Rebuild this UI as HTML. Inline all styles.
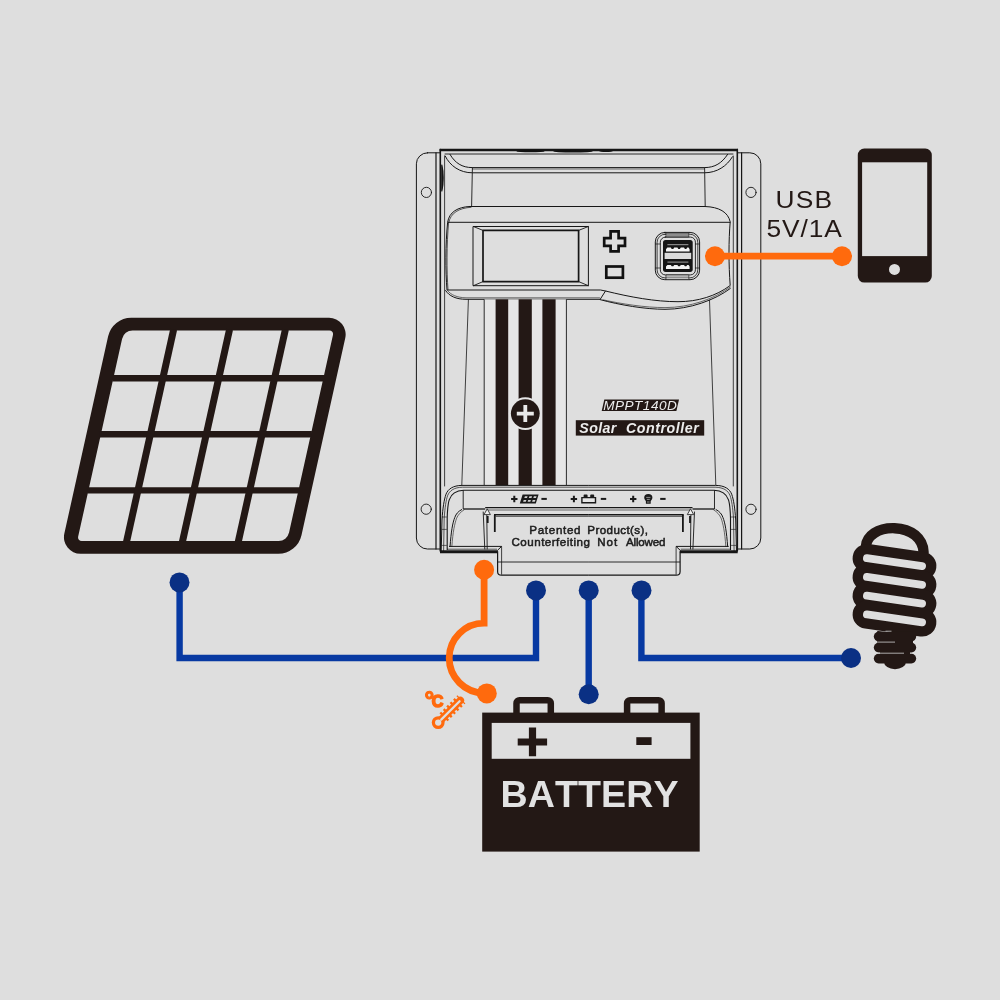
<!DOCTYPE html>
<html lang="en"><head><meta charset="utf-8"><title>Solar Controller Wiring</title>
<style>
html,body{margin:0;padding:0;background:#dedede;}
body{width:1000px;height:1000px;overflow:hidden;font-family:"Liberation Sans",sans-serif;}
svg{display:block;}
svg{will-change:transform;}
</style></head><body>
<svg width="1000" height="1000" viewBox="0 0 1000 1000">
<rect width="1000" height="1000" fill="#dedede"/>
<g id="panel">
<path d="M108.13,336.36 A23.70,23.70 0 0 1 131.26,317.80 L329.06,317.80 A16.60,16.60 0 0 1 345.26,338.00 L301.48,535.24 A23.70,23.70 0 0 1 278.34,553.80 L80.55,553.80 A16.60,16.60 0 0 1 64.34,533.60 Z M122.07,338.88 A10.70,10.70 0 0 1 132.51,330.50 L329.44,330.50 A3.60,3.60 0 0 1 332.96,334.88 L289.06,532.62 A10.70,10.70 0 0 1 278.61,541.00 L81.68,541.00 A3.60,3.60 0 0 1 78.17,536.62 Z" fill="#231815" fill-rule="evenodd"/>
<line x1="112.34" y1="378.2" x2="324.34" y2="378.2" stroke="#231815" stroke-width="6.4"/>
<line x1="99.91" y1="434.2" x2="311.91" y2="434.2" stroke="#231815" stroke-width="6.4"/>
<line x1="87.43" y1="490.4" x2="299.43" y2="490.4" stroke="#231815" stroke-width="6.4"/>
<line x1="173.65" y1="329.5" x2="126.48" y2="542.0" stroke="#231815" stroke-width="7"/>
<line x1="229.55" y1="329.5" x2="182.38" y2="542.0" stroke="#231815" stroke-width="7"/>
<line x1="285.40" y1="329.5" x2="238.23" y2="542.0" stroke="#231815" stroke-width="7"/>
</g>
<g id="controller" fill="none" stroke="#161616" stroke-width="1" stroke-linecap="round" stroke-linejoin="round">
<rect x="416.4" y="152.8" width="344.4" height="396.2" rx="11" ry="11"/>
<circle cx="426.4" cy="192.4" r="5.1" stroke-width="0.9"/>
<circle cx="751" cy="192.4" r="5.1" stroke-width="0.9"/>
<circle cx="426.2" cy="509.2" r="5.1" stroke-width="0.9"/>
<circle cx="751" cy="509.3" r="5.1" stroke-width="0.9"/>
<rect x="440.3" y="149" width="297" height="402.5" fill="#dedede" stroke="none"/>
<path d="M436,152.8V549 M741.6,152.8V549" stroke-width="1.2"/>
<path d="M440.3,149.5V551 M737.3,149.5V551" stroke-width="1.6"/>
<path d="M444.6,156V486 M733.3,156V486" stroke-width="0.8"/>
<path d="M439.6,150H738" stroke-width="2.4" stroke-linecap="butt"/>
<path d="M445,154H733" stroke-width="0.9"/>
<ellipse cx="530.5" cy="151.2" rx="14" ry="1.1" fill="#111" stroke="none"/><ellipse cx="573" cy="151.3" rx="20" ry="1.3" fill="#111" stroke="none"/><ellipse cx="606" cy="151.1" rx="7" ry="0.9" fill="#111" stroke="none"/>
<path d="M441.8,165C443.6,172 443.6,184 441.8,191Z" fill="#111" stroke-width="1.2"/>
<path d="M450,154.4C455,163 462,167.6 472.4,167.6H704.4C715,167.6 722,163 727.6,154.4"/>
<path d="M445.2,156C450,166 460,172.8 472.4,172.8H704.4C717,172.8 727,166 732.4,156.8"/>
<path d="M472.4,169H704.4" stroke-width="0.6"/>
<path d="M472.4,167.6L471.6,206.6 M704.6,167.6L705.2,206.6" stroke-width="0.9"/>
<path d="M469.5,206.5H705C719,207 728,212 730.2,221.8C728.6,240 728.6,265 730.2,285.5 C716,296 698,301.7 678,301.7C655,301.7 630,297 605.5,291 L600.5,290H447 C445.4,270 445.4,245 447.6,222.5C449,212 458,207 469.5,206.5Z" fill="#dedede"/>
<path d="M471,207.3C459,208 450.5,213 448.8,222.4" stroke-width="0.7"/>
<path d="M448,222.3H730"/>
<path d="M448.6,222.5C446.6,245 446.6,270 448,289.6" stroke-width="0.7"/>
<path d="M445.6,290.5C449,296 456,299.3 466,299.3H600"/>
<path d="M447.5,290.5C451,295 457,297.6 466,297.8H599.5" stroke-width="0.6"/>
<path d="M605.5,291L600,299.6C620,305 645,309.3 665,309.3C690,309.3 715,300 730.3,288.5"/>
<path d="M603,299.8C622,304 645,307.6 665,307.6C690,307.6 714,299 730.3,287" stroke-width="0.6"/>
<rect x="473.4" y="226.5" width="115" height="59.2"/>
<rect x="483" y="230.4" width="95.6" height="51.2" stroke-width="1.7"/>
<path d="M473.4,226.5L483,230.4 M588.4,226.5L578.6,230.4 M473.4,285.7L483,281.6 M588.4,285.7L578.6,281.6" stroke-width="0.9"/>
<path d="M610.6,231.4H618.6V238.2H625V245.8H618.6V251.4H610.6V245.8H604.2V238.2H610.6Z" stroke-width="2.7" stroke-linejoin="miter" stroke="#111"/>
<rect x="606.3" y="266.5" width="16.6" height="11.2" stroke-width="2.7" stroke-linejoin="miter" stroke="#111"/>
<rect x="655.3" y="232.4" width="44.3" height="47.3" rx="9.5" ry="9.5"/>
<rect x="657.1" y="234.2" width="40.7" height="43.7" rx="8" ry="8" stroke-width="0.8"/>
<rect x="660.3" y="237.1" width="35.1" height="37.8" rx="5" ry="5" stroke-width="0.9"/>
<rect x="666.3" y="232.8" width="22.5" height="4.2" fill="#8c8c8c" stroke-width="0.6"/>
<rect x="666.3" y="275" width="22.5" height="4.4" fill="#cfcfcf" stroke-width="0.6"/>
<path d="M666.3,277.2H688.8" stroke-width="0.5"/>
<path d="M655.5,244H660.3 M655.5,268H660.3 M695.4,244H699.4 M695.4,268H699.4" stroke-width="0.7"/>
<rect x="663" y="240.1" width="29.7" height="31.8" rx="2.6" ry="2.6" fill="#151515" stroke="none"/>
<rect x="664.6" y="252.8" width="26.6" height="6.2" fill="#dadada" stroke="none"/>
<path d="M667.4,244.7H688.4" stroke="#c4c4c4" stroke-width="0.8" stroke-linecap="butt"/>
<path d="M666,251.6V249.2L667.4,247.6h3.4l.9,1.3h1.6l.9,-1.3h3.2l.9,1.3h1.6l.9,-1.3h3.2l.9,1.3h1.4l.9,-1.3h1.4L689.6,249.2V251.6Z" fill="#f4f4f4" stroke="none"/>
<path d="M667.4,262.1H688.4" stroke="#c4c4c4" stroke-width="0.8" stroke-linecap="butt"/>
<path d="M666,269.0V266.6L667.4,265.0h3.4l.9,1.3h1.6l.9,-1.3h3.2l.9,1.3h1.6l.9,-1.3h3.2l.9,1.3h1.4l.9,-1.3h1.4L689.6,266.6V269.0Z" fill="#f4f4f4" stroke="none"/>
<path d="M468.4,299.6L461.8,485 M709.5,300L715.8,485" stroke-width="0.8"/>
</g>
<g id="stripes">
<rect x="484" y="299.3" width="82.5" height="186" fill="#e6e6e6"/>
<rect x="495.6" y="299.3" width="12.6" height="186" fill="#231815"/>
<rect x="518.6" y="299.3" width="13.2" height="186" fill="#231815"/>
<rect x="542.4" y="299.3" width="13.2" height="186" fill="#231815"/>
<path d="M484.2,299.3V485 M566.4,299.3V485" stroke="#161616" stroke-width="0.9" fill="none"/>
<circle cx="525.3" cy="413.6" r="16.4" fill="#e6e6e6"/>
<circle cx="525.3" cy="413.6" r="14.4" fill="#231815"/>
<path d="M516.8,413.6H533.8 M525.3,405.1V422.1" stroke="#e9e9e9" stroke-width="3.8" fill="none"/>
</g>
<path d="M604.3,399.6H679L676.4,411H601.7Z" fill="#231815"/>
<text y="410" font-family="Liberation Sans, sans-serif" font-style="italic" font-size="13.6" fill="#ececec" style="font-kerning:none" ><tspan x="603.18" letter-spacing="0.481">MPPT140D</tspan></text>
<rect x="575.8" y="420.2" width="128.4" height="15.4" fill="#231815"/>
<text y="432.8" font-family="Liberation Sans, sans-serif" font-weight="bold" font-style="italic" font-size="14.2" fill="#ececec" style="font-kerning:none" ><tspan x="579.33" letter-spacing="0.354">Solar</tspan> <tspan x="626.01" letter-spacing="0.556">Controller</tspan></text>
<g id="bottom" fill="none" stroke="#161616" stroke-width="1" stroke-linecap="butt" stroke-linejoin="round">
<path d="M441.2,551L442,520C442.8,508 444,500 446,494.2C448,489 453,485.5 462,485.4H715.7C724.7,485.5 729.7,489 731.7,494.2C733.7,500 734.9,508 735.7,520L736.5,551Z" fill="#dedede" stroke="none"/>
<g>
<path d="M441.2,551L442,520C442.8,508 444,500 446,494.2C448,489 453,485.5 462,485.4H588.85"/>
<path d="M443.6,551L444.2,518C445,507 446,500.4 447.6,495.6C449.6,490.6 454,487.4 462.5,487.2H588.85" stroke-width="0.7"/>
<path d="M447.2,550V518C447.5,508 448,503.5 449.2,499.8C451,494.5 456,490.4 463.6,490.2H588.85" stroke-width="1.1"/>
<path d="M463.2,490.2V509" stroke-width="0.9"/>
<path d="M463.2,509H485.2" stroke-width="1.3"/>
<path d="M462,509.4C458,511.5 456,514 454.8,517.4C452.6,523 451.2,531 450,547"/>
<path d="M464.4,509.6C460.4,512 458,515 456.6,518.2C454.6,524 453,531 451.8,547" stroke-width="0.6"/>
<path d="M442,517H446.8 M441.8,529.4H446.8 M441.6,545.4H446.8" stroke-width="0.6"/>
<path d="M449,546.4H501.6L497.4,550.4" stroke-width="1"/>
<path d="M447,549.2H497" stroke-width="0.7"/>
<path d="M440,551.8H497.8" stroke-width="3" stroke-linecap="butt"/>
<path d="M485.2,507.6H588.85" stroke-width="1.2"/>
<path d="M486.4,510H588.85" stroke-width="0.6"/>
<path d="M494,514.8H588.85" stroke-width="1.5"/>
<path d="M495.6,516.5H588.85" stroke-width="0.6"/>
<path d="M483.2,511.6L484.8,549.4 M486.8,515L487.2,549.4" stroke-width="0.9"/>
<path d="M484,514.6L487.2,508.8L490.4,514.6Z" fill="#f0f0f0" stroke-width="0.8"/>
<path d="M487.7,516V523" stroke-width="1.8" stroke-linecap="butt"/>
<path d="M494.8,514.8V532" stroke-width="1.8"/>
<path d="M497.6,551.2V571.4C497.6,573.8 499,575.2 501.6,575.2H588.85" stroke-width="1.2"/>
<path d="M501.6,546.4V574.6" stroke-width="0.8"/>
<path d="M497.6,562H588.85" stroke-width="0.9"/>
</g>
<g transform="translate(1177.7,0) scale(-1,1)">
<path d="M441.2,551L442,520C442.8,508 444,500 446,494.2C448,489 453,485.5 462,485.4H588.85"/>
<path d="M443.6,551L444.2,518C445,507 446,500.4 447.6,495.6C449.6,490.6 454,487.4 462.5,487.2H588.85" stroke-width="0.7"/>
<path d="M447.2,550V518C447.5,508 448,503.5 449.2,499.8C451,494.5 456,490.4 463.6,490.2H588.85" stroke-width="1.1"/>
<path d="M463.2,490.2V509" stroke-width="0.9"/>
<path d="M463.2,509H485.2" stroke-width="1.3"/>
<path d="M462,509.4C458,511.5 456,514 454.8,517.4C452.6,523 451.2,531 450,547"/>
<path d="M464.4,509.6C460.4,512 458,515 456.6,518.2C454.6,524 453,531 451.8,547" stroke-width="0.6"/>
<path d="M442,517H446.8 M441.8,529.4H446.8 M441.6,545.4H446.8" stroke-width="0.6"/>
<path d="M449,546.4H501.6L497.4,550.4" stroke-width="1"/>
<path d="M447,549.2H497" stroke-width="0.7"/>
<path d="M440,551.8H497.8" stroke-width="3" stroke-linecap="butt"/>
<path d="M485.2,507.6H588.85" stroke-width="1.2"/>
<path d="M486.4,510H588.85" stroke-width="0.6"/>
<path d="M494,514.8H588.85" stroke-width="1.5"/>
<path d="M495.6,516.5H588.85" stroke-width="0.6"/>
<path d="M483.2,511.6L484.8,549.4 M486.8,515L487.2,549.4" stroke-width="0.9"/>
<path d="M484,514.6L487.2,508.8L490.4,514.6Z" fill="#f0f0f0" stroke-width="0.8"/>
<path d="M487.7,516V523" stroke-width="1.8" stroke-linecap="butt"/>
<path d="M494.8,514.8V532" stroke-width="1.8"/>
<path d="M497.6,551.2V571.4C497.6,573.8 499,575.2 501.6,575.2H588.85" stroke-width="1.2"/>
<path d="M501.6,546.4V574.6" stroke-width="0.8"/>
<path d="M497.6,562H588.85" stroke-width="0.9"/>
</g>
</g>
<text y="533.6" font-family="Liberation Sans, sans-serif" font-size="11.6" fill="#1c1c1c" style="font-kerning:none" stroke="#1c1c1c" stroke-width="0.5"><tspan x="529.25" letter-spacing="0.694">Patented</tspan> <tspan x="587.35" letter-spacing="0.397">Product(s),</tspan></text>
<text y="546.4" font-family="Liberation Sans, sans-serif" font-size="11.6" fill="#1c1c1c" style="font-kerning:none" stroke="#1c1c1c" stroke-width="0.5"><tspan x="511.51" letter-spacing="0.478">Counterfeiting</tspan> <tspan x="597.25" letter-spacing="0.993">Not</tspan> <tspan x="625.98" letter-spacing="-0.175">Allowed</tspan></text>
<g id="ticons" stroke="#1a1a1a" fill="none" stroke-width="2" stroke-linecap="butt">
<path d="M511.09999999999997,499h6.4 M514.3,495.8v6.4"/>
<path d="M570.6999999999999,499h6.4 M573.9,495.8v6.4"/>
<path d="M630.0,499h6.4 M633.2,495.8v6.4"/>
<path d="M541.4,498.9h5.4"/>
<path d="M600.8,498.9h5.4"/>
<path d="M660.1999999999999,498.9h5.4"/>
<path d="M522.6,494.5H538.6L535.8,503.5H519.8Z" fill="#1a1a1a" stroke="none"/>
<path d="M524.9,496.3h2.7l-.6,1.8h-2.7z m4.5,0h2.7l-.6,1.8h-2.7z m4.5,0h2.7l-.6,1.8h-2.7z M523.7,500h2.7l-.6,1.8h-2.7z m4.5,0h2.7l-.6,1.8h-2.7z m4.5,0h2.7l-.6,1.8h-2.7z" fill="#d2d2d2" stroke="none"/>
<path d="M581.9,497.6H595.5V502.8H581.9Z" stroke-width="1.4" fill="#e6e6e6"/>
<path d="M583.6,497.4V495.4a.9,.9 0 0 1 .9,-.9h2.2a.9,.9 0 0 1 .9,.9V497.4Z M590.2,497.4V495.4a.9,.9 0 0 1 .9,-.9h2.2a.9,.9 0 0 1 .9,.9V497.4Z" fill="#1a1a1a" stroke="none"/>
<path d="M644.2,497.8a4.1,3.7 0 1 1 8.2,0c0,1.6-1.3,2.4-1.7,3.4v2.6h-4.8v-2.6c-.4-1-1.7-1.8-1.7-3.4z" fill="#1a1a1a" stroke="none"/>
<path d="M646.2,497.4h4.2 M646.8,499.4h3 M647,502h2.6" stroke="#dedede" stroke-width="0.6"/>
</g>
<g id="wires" fill="none" stroke-linejoin="miter">
<path d="M179.6,582V658H536V590.5" stroke="#0739a2" stroke-width="6.4"/>
<path d="M588.7,590.5V694" stroke="#0739a2" stroke-width="6.4"/>
<path d="M641.4,590.5V658H851" stroke="#0739a2" stroke-width="6.4"/>
<circle cx="179.5" cy="582.4" r="10" fill="#0a3084"/>
<circle cx="536" cy="590.4" r="10" fill="#0a3084"/>
<circle cx="588.7" cy="590.4" r="10" fill="#0a3084"/>
<circle cx="641.5" cy="590.4" r="10" fill="#0a3084"/>
<circle cx="588.7" cy="694.2" r="10" fill="#0a3084"/>
<circle cx="851" cy="658" r="10" fill="#0a3084"/>
<path d="M715,256.2H842" stroke="#ff6a0d" stroke-width="6.8"/>
<circle cx="715" cy="256.2" r="10" fill="#ff6a0d"/><circle cx="842" cy="256.2" r="10" fill="#ff6a0d"/>
<path d="M484.1,569.6V623.2A34.9,34.9 0 0 0 484.1,693" stroke="#ff6a0d" stroke-width="6.8"/>
<circle cx="484.1" cy="569.8" r="10" fill="#ff6a0d"/><circle cx="486.8" cy="693.4" r="10" fill="#ff6a0d"/>
</g>
<g id="thermo" fill="none" stroke="#ff6a0d">
<path d="M443.5,717.3L461.4,699.4" stroke-width="11.4" stroke-dasharray="2.3 2.5" stroke-linecap="butt"/>
<path d="M441.5,719.3L460.4,700.4" stroke-width="7.4" stroke-linecap="round"/>
<circle cx="438.2" cy="722.6" r="4.8" stroke-width="3.3" fill="#dedede"/>
<path d="M441.2,719.6L459.6,701.2" stroke="#dedede" stroke-width="2.2" stroke-linecap="round"/>
</g>
<text font-family="Liberation Sans, sans-serif" font-weight="bold" fill="#ff6a0d" stroke="#ff6a0d" stroke-linejoin="round"><tspan x="424.6" y="708" font-size="24" stroke-width="1.2">°</tspan><tspan x="431.7" y="706.7" font-size="16.1" stroke-width="1.5">C</tspan></text>
<rect x="857.8" y="148.6" width="74" height="134" rx="6.5" ry="6.5" fill="#231815"/>
<rect x="862.1" y="162.3" width="65.1" height="93.8" fill="#dedede"/>
<circle cx="894.5" cy="269.4" r="5.5" fill="#dedede"/>
<text y="208.2" font-family="Liberation Sans, sans-serif" font-size="24.4" fill="#231815" style="font-kerning:none" transform="scale(1.08,1)" ><tspan x="718.12" letter-spacing="1.083">USB</tspan></text>
<text y="237.5" font-family="Liberation Sans, sans-serif" font-size="24.4" fill="#231815" style="font-kerning:none" transform="scale(1.08,1)" ><tspan x="709.81" letter-spacing="0.827">5V/1A</tspan></text>
<g id="battery">
<rect x="482.2" y="712.6" width="217.5" height="139" fill="#231815"/>
<rect x="491.7" y="722.9" width="198.7" height="35.9" fill="#dedede"/>
<path d="M516.5,714V703.2a3,3 0 0 1 3,-3H547.8a3,3 0 0 1 3,3V714 M627.1,714V703.2a3,3 0 0 1 3,-3H658.6a3,3 0 0 1 3,3V714" fill="none" stroke="#231815" stroke-width="6.5"/>
<path d="M517.7,742H547.1 M532.5,727.6V756.2" stroke="#231815" stroke-width="7.2" fill="none"/>
<path d="M636.3,741.1H651.6" stroke="#231815" stroke-width="7.8" fill="none"/>
<text y="807" font-family="Liberation Sans, sans-serif" font-weight="bold" font-size="37.6" fill="#e2e2e2" style="font-kerning:none" ><tspan x="500.48" letter-spacing="0.095">BATTERY</tspan></text>
</g>
<g id="bulb" fill="none" stroke-linecap="round" stroke-linejoin="round">
<path d="M865.9,546.5C866.5,536 878,527.6 894.6,528.2C911,528.8 923.2,538 923.6,552.5" stroke="#231815" stroke-width="10.4"/>
<path d="M866.9,558.2L922.1,566.05" stroke="#231815" stroke-width="28.6"/>
<path d="M866.9,576.95L922.1,584.8" stroke="#231815" stroke-width="28.6"/>
<path d="M866.9,595.7L922.1,603.55" stroke="#231815" stroke-width="28.6"/>
<path d="M866.9,614.45L922.1,622.3" stroke="#231815" stroke-width="28.6"/>
<path d="M866.9,558.2L922.1,566.05" stroke="#dedede" stroke-width="7.8"/>
<path d="M866.9,576.95L922.1,584.8" stroke="#dedede" stroke-width="7.8"/>
<path d="M866.9,595.7L922.1,603.55" stroke="#dedede" stroke-width="7.8"/>
<path d="M866.9,614.45L922.1,622.3" stroke="#dedede" stroke-width="7.8"/>
<path d="M878,632L912,637V650H878Z" fill="#231815" stroke="#231815" stroke-width="2"/>
<path d="M878.6,636.6H911.4" stroke="#231815" stroke-width="9.6"/>
<path d="M878.6,647.6H911.4" stroke="#231815" stroke-width="9.6"/>
<path d="M878.6,658.6H911.4" stroke="#231815" stroke-width="9.6"/>
<ellipse cx="895" cy="662" rx="11" ry="7.2" fill="#231815"/>
<rect x="880" y="636" width="30" height="23" fill="#231815"/>
<path d="M875.5,642.1H895 M875.5,653.2H904 M885.5,631.2H891.5" stroke="#cfcfcf" stroke-width="0.8" stroke-linecap="butt"/>
</g>
</svg>
</body></html>
